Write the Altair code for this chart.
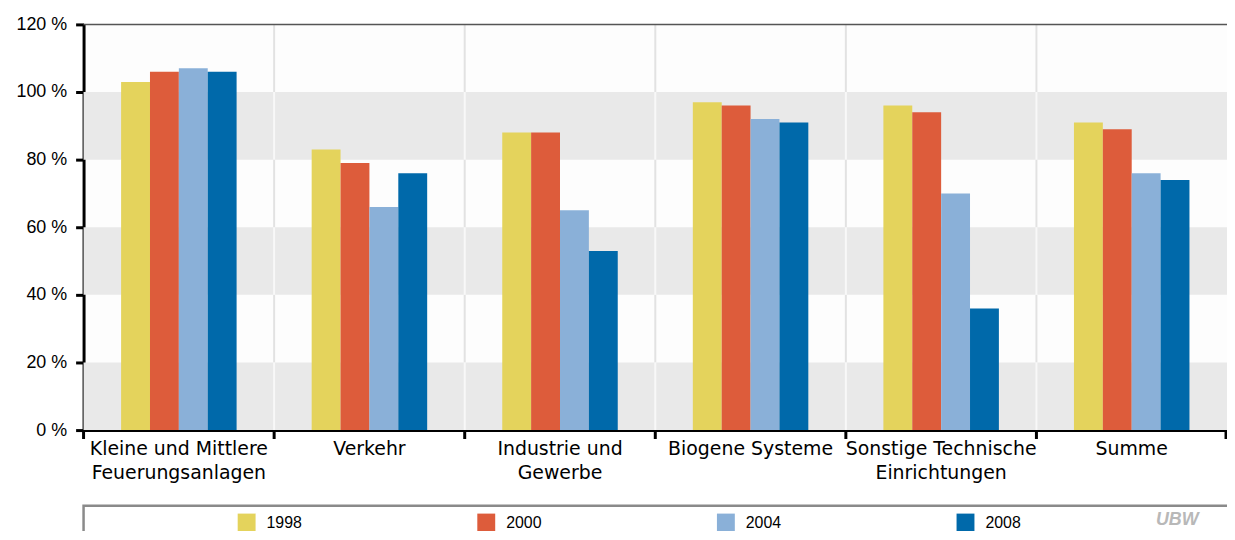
import altair as alt
import pandas as pd

categories = ["Kleine und Mittlere|Feuerungsanlagen", "Verkehr", "Industrie und|Gewerbe",
              "Biogene Systeme", "Sonstige Technische|Einrichtungen", "Summe"]
years = ["1998", "2000", "2004", "2008"]
v1998 = [103, 83, 88, 97, 96, 91]
v2000 = [106, 79, 88, 96, 94, 89]
v2004 = [107, 66, 65, 92, 70, 76]
v2008 = [106, 76, 53, 91, 36, 74]
colors = ["#e4d35c", "#dd5c3b", "#8ab0d8", "#0069aa"]
y_ticks = [0, 20, 40, 60, 80, 100, 120]
band_starts = [0, 20, 40, 60, 80, 100]
grey_band_starts = [0, 40, 80]

W, H = 1150, 408
FONT = "Liberation Sans"
XFONT = "DejaVu Sans"

rows = []
for y, vals in zip(years, [v1998, v2000, v2004, v2008]):
    for c, v in zip(categories, vals):
        rows.append({"cat": c, "year": y, "value": v})
df = pd.DataFrame(rows)

bands = pd.DataFrame({"y0": grey_band_starts, "y1": [b + 20 for b in grey_band_starts]})
seg = pd.DataFrame([{"cat": c, "y0": b, "y1": b + 20, "grey": b in grey_band_starts}
                    for c in categories[1:] for b in band_starts])
seg_white = seg[~seg["grey"]]
seg_grey = seg[seg["grey"]]
cats_df = pd.DataFrame({"cat": categories})
one = pd.DataFrame({"a": [0]})

xscale = alt.Scale(domain=categories, paddingInner=0, paddingOuter=0)
yscale = alt.Scale(domain=[0, 120], nice=False)
# empty slots on both sides of each group keep the four bars together in the middle
offset_domain = ["_l"] + years + ["_r"]

bg = alt.Chart(bands).mark_rect(color="#e9e9e9").encode(
    x=alt.value(0), x2=alt.value(W),
    y=alt.Y("y0:Q", scale=yscale), y2="y1:Q")

grid_w = alt.Chart(seg_white).mark_rule(color="#e2e2e2", strokeWidth=2).encode(
    x=alt.X("cat:N", sort=categories, scale=xscale, bandPosition=0),
    y=alt.Y("y0:Q", scale=yscale), y2="y1:Q")
grid_g = alt.Chart(seg_grey).mark_rule(color="#f8f8f8", strokeWidth=2).encode(
    x=alt.X("cat:N", sort=categories, scale=xscale, bandPosition=0),
    y=alt.Y("y0:Q", scale=yscale), y2="y1:Q")

top_line = alt.Chart(one).mark_rule(color="#555555", strokeWidth=1.5).encode(
    x=alt.value(0), x2=alt.value(W), y=alt.datum(120))

legend_box = alt.Chart(one).mark_rect(fill="white", stroke="#8a8a8a", strokeWidth=2.5).encode(
    x=alt.value(0), x2=alt.value(W + 30), y=alt.value(484), y2=alt.value(600))

logo = alt.Chart(one).mark_text(text="UBW", font=FONT, fontStyle="italic", fontWeight="bold",
                                fontSize=18, color="#b8b8b8", align="center", baseline="middle").encode(
    x=alt.value(W - 50), y=alt.value(498))

bars = alt.Chart(df).mark_bar().encode(
    x=alt.X("cat:N", sort=categories, scale=xscale,
            axis=alt.Axis(title=None, labelExpr="split(datum.label, '|')", ticks=False,
                          domainColor="black", domainWidth=3, labelAngle=0, labelFontSize=19,
                          labelPadding=10, labelLineHeight=24, labelColor="black", labelLimit=400,
                          labelFont=XFONT, grid=False, labelBaseline="top", labelAlign="center")),
    xOffset=alt.XOffset("year:N", scale=alt.Scale(domain=offset_domain, paddingInner=0, paddingOuter=0.3)),
    y=alt.Y("value:Q", scale=yscale,
            axis=alt.Axis(title=None, values=y_ticks, labelExpr="datum.value + ' %'",
                          domainColor="black", domainWidth=3, tickColor="black", tickWidth=3,
                          tickSize=8, labelFontSize=18, labelFont=FONT, labelColor="black",
                          labelPadding=9, grid=False)),
    color=alt.Color("year:N", scale=alt.Scale(domain=years, range=colors),
                    legend=alt.Legend(title=None, orient="none", legendX=155, legendY=492,
                                      direction="horizontal", symbolType="square",
                                      symbolSize=324, symbolStrokeWidth=0, symbolOpacity=1,
                                      labelFontSize=16, labelFont=FONT, labelColor="black",
                                      labelOffset=11, columnPadding=176, padding=0))
)

xticks = alt.Chart(cats_df).mark_rule(color="black", strokeWidth=3).encode(
    x=alt.X("cat:N", sort=categories, scale=xscale, bandPosition=0),
    y=alt.value(H), y2=alt.value(H + 9))
xtick_end = alt.Chart(one).mark_rule(color="black", strokeWidth=3).encode(
    x=alt.value(W - 1), y=alt.value(H), y2=alt.value(H + 9))

chart = alt.layer(legend_box, logo, bg, grid_w, grid_g, top_line, bars, xticks, xtick_end).properties(
    width=W, height=H,
    padding={"left": 76, "top": 15, "right": 0, "bottom": 100},
    autosize=alt.AutoSizeParams(type="none"),
).configure_view(stroke=None, fill="#fdfdfd")

chart.save("out.html", embed_options={"renderer": "svg", "actions": False})
